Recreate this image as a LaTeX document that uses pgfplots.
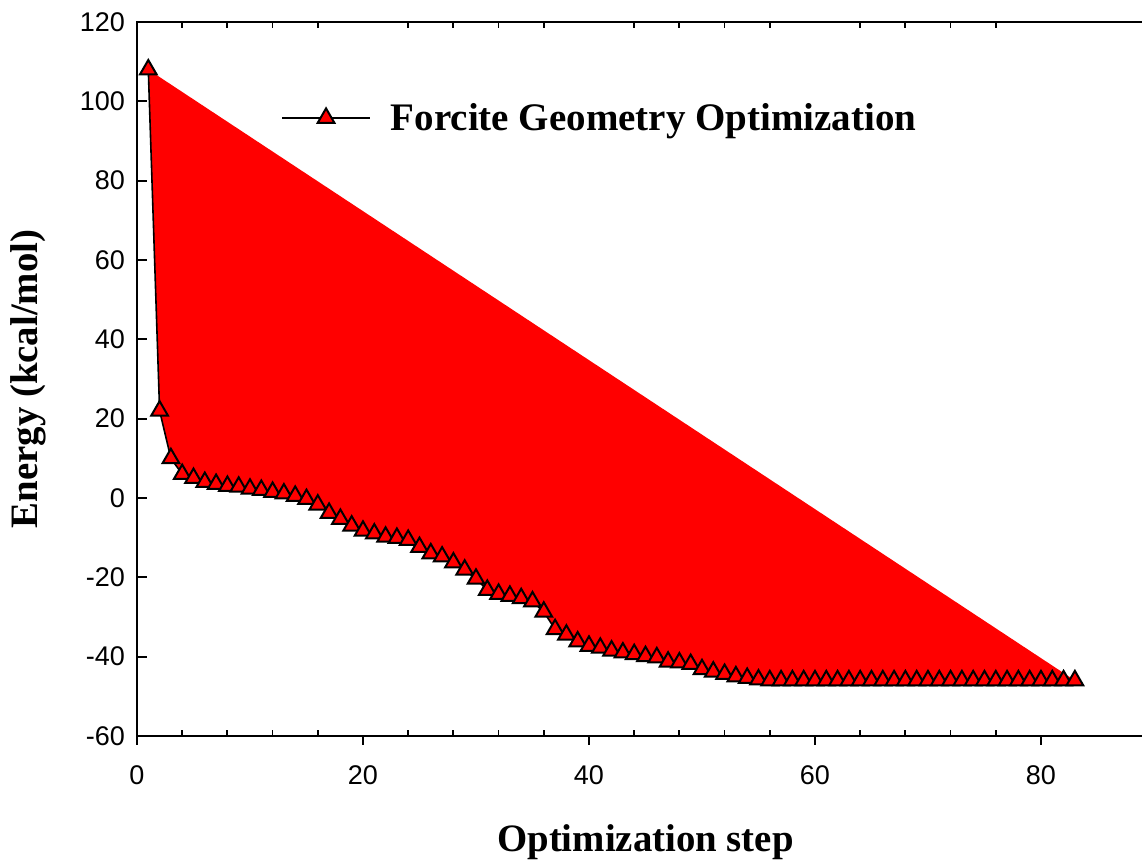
\documentclass[border=0pt]{standalone}
\usepackage{fontspec}
\setmainfont{Liberation Serif}
\setsansfont{Liberation Sans}
\usepackage{pgfplots}
\pgfplotsset{compat=1.18}
\begin{document}
\begin{tikzpicture}
\pgfplotsset{common/.style={scale only axis, width=508.5pt, height=357pt,
  xmin=0, xmax=90, ymin=-60, ymax=120,
  axis line style={line width=1pt},
  every tick/.style={black, line width=0.9pt},
  /pgf/number format/assume math mode=true,
  tick label style={font=\sffamily\fontsize{13.5}{16}\selectfont},
  label style={font=\bfseries\fontsize{19.4}{23}\selectfont}}}
\begin{axis}[common, name=main,
  tick align=outside, major tick length=4.5pt,
  xtick={0,20,40,60,80}, xtick pos=bottom, minor x tick num=0,
  xticklabel style={yshift=-7pt},
  ytick=\empty,
  xlabel={Optimization step},
  xlabel style={at={(axis description cs:0.5,-0.1485)}, anchor=center},
  ylabel={Energy (kcal/mol)},
  ylabel style={at={(axis description cs:-0.1072,0.5)}, anchor=center},
  legend style={at={(axis cs:12.2,95.8)}, anchor=west, draw=none, fill=none,
    font=\bfseries\fontsize{19.5}{23}\selectfont,
    /tikz/every odd column/.append style={column sep=8pt}},
  legend image code/.code={\draw[#1, fill=none, mark repeat=2, mark phase=2]
    plot coordinates {(0pt,0pt) (22pt,0pt) (44pt,0pt)};},
]
\addplot[draw=black, line width=0.8pt, fill=red,
  mark=triangle*, mark size=4.8pt,
  mark options={fill=red, draw=black, line width=1pt}]
coordinates {
(1,108) (2,22) (3,10) (4,6) (5,5) (6,4) (7,3.5) (8,3) (9,2.8) (10,2.3)
(11,2) (12,1.5) (13,1.1) (14,0.5) (15,-0.3) (16,-1.7) (17,-3.8) (18,-5.3) (19,-7) (20,-8.3)
(21,-9) (22,-9.8) (23,-10.1) (24,-10.6) (25,-12.4) (26,-14) (27,-14.8) (28,-16.3) (29,-18.1) (30,-20.4)
(31,-23.2) (32,-24.2) (33,-24.7) (34,-25.3) (35,-26.1) (36,-28.7) (37,-33.1) (38,-34.5) (39,-36.2) (40,-37.3)
(41,-37.8) (42,-38.5) (43,-39) (44,-39.4) (45,-39.9) (46,-40.2) (47,-41.3) (48,-41.5) (49,-41.9) (50,-43.2)
(51,-43.8) (52,-44.4) (53,-45) (54,-45.4) (55,-45.8) (56,-46) (57,-46) (58,-46) (59,-46) (60,-46)
(61,-46) (62,-46) (63,-46) (64,-46) (65,-46) (66,-46) (67,-46) (68,-46) (69,-46) (70,-46)
(71,-46) (72,-46) (73,-46) (74,-46) (75,-46) (76,-46) (77,-46) (78,-46) (79,-46) (80,-46)
(81,-46) (82,-46) (83,-46)
};
\addlegendentry{Forcite Geometry Optimization}
\end{axis}
\begin{axis}[common,
  tick align=inside, major tick length=5pt, minor tick length=3pt,
  xtick={0,20,40,60,80}, xticklabels={}, major x tick style={draw=none},
  minor x tick num=4, xtick pos=both,
  ytick={-60,-40,...,120}, ytick pos=both, minor y tick num=0,
  yticklabel style={xshift=-2.5pt},
]
\end{axis}
\pgfresetboundingbox
\path ([shift={(-68.5pt,-62.5pt)}]main.south west) rectangle ([shift={(502.5pt,368pt)}]main.south west);
\end{tikzpicture}
\end{document}
